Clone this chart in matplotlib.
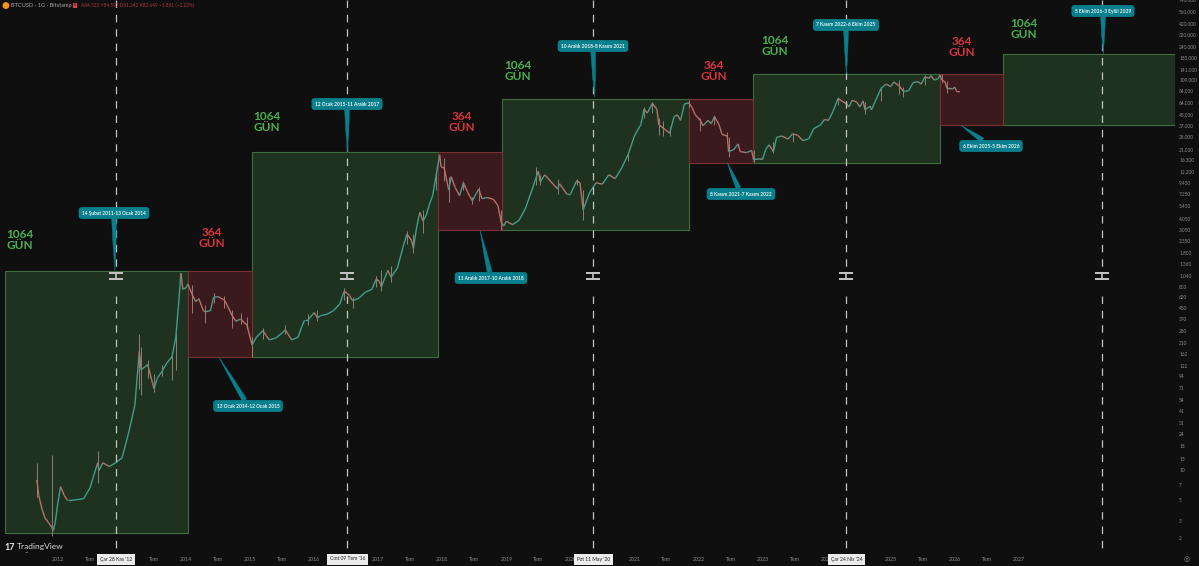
#!/usr/bin/env python
# -*- coding: utf-8 -*-

"""
BTCUSD log chart with the 1064 / 364 day cycle boxes.
"""

import matplotlib
matplotlib.use("Agg")
import matplotlib.pyplot as plt
from matplotlib.collections import LineCollection
from matplotlib.patches import Rectangle

plt.rcParams['font.family'] = ['Lato', 'DejaVu Sans']

# price path, decimal year / close
years = [2011.67, 2011.70, 2011.75, 2011.80, 2011.85, 2011.90, 2011.93, 2011.96, 2012.00, 2012.04,
         2012.10, 2012.15, 2012.20, 2012.30, 2012.40, 2012.50, 2012.55, 2012.62, 2012.64, 2012.70,
         2012.80, 2012.90, 2013.00, 2013.10, 2013.20, 2013.27, 2013.30, 2013.40, 2013.50, 2013.55,
         2013.62, 2013.70, 2013.78, 2013.84, 2013.88, 2013.92, 2013.95, 2014.00, 2014.03, 2014.10,
         2014.15, 2014.20, 2014.27, 2014.30, 2014.38, 2014.43, 2014.50, 2014.60, 2014.65, 2014.72,
         2014.78, 2014.85, 2014.95, 2015.03, 2015.10, 2015.20, 2015.25, 2015.30, 2015.40, 2015.50,
         2015.55, 2015.65, 2015.75, 2015.80, 2015.85, 2015.90, 2016.00, 2016.05, 2016.10, 2016.20,
         2016.30, 2016.40, 2016.47, 2016.55, 2016.60, 2016.70, 2016.80, 2016.90, 2016.97, 2017.02,
         2017.05, 2017.15, 2017.20, 2017.30, 2017.40, 2017.45, 2017.52, 2017.55, 2017.60, 2017.65,
         2017.70, 2017.75, 2017.80, 2017.85, 2017.90, 2017.96, 2017.98, 2018.03, 2018.10, 2018.14,
         2018.20, 2018.27, 2018.33, 2018.40, 2018.47, 2018.57, 2018.62, 2018.70, 2018.80, 2018.87,
         2018.92, 2018.96, 2019.00, 2019.10, 2019.20, 2019.30, 2019.40, 2019.47, 2019.50, 2019.53,
         2019.60, 2019.70, 2019.80, 2019.83, 2019.95, 2020.00, 2020.10, 2020.15, 2020.20, 2020.30,
         2020.40, 2020.50, 2020.60, 2020.70, 2020.80, 2020.90, 2021.00, 2021.10, 2021.15, 2021.20,
         2021.28, 2021.35, 2021.38, 2021.45, 2021.55, 2021.62, 2021.67, 2021.72, 2021.78, 2021.85,
         2021.90, 2021.95, 2022.03, 2022.07, 2022.15, 2022.20, 2022.25, 2022.32, 2022.37, 2022.45,
         2022.47, 2022.55, 2022.62, 2022.65, 2022.75, 2022.83, 2022.86, 2022.95, 2023.00, 2023.05,
         2023.10, 2023.17, 2023.22, 2023.30, 2023.40, 2023.47, 2023.55, 2023.63, 2023.72, 2023.80,
         2023.90, 2023.97, 2024.03, 2024.10, 2024.18, 2024.25, 2024.30, 2024.35, 2024.40, 2024.47,
         2024.52, 2024.57, 2024.60, 2024.68, 2024.70, 2024.76, 2024.85, 2024.93, 2025.00, 2025.05,
         2025.13, 2025.20, 2025.28, 2025.35, 2025.42, 2025.48, 2025.53, 2025.60, 2025.63, 2025.68,
         2025.74, 2025.77, 2025.80, 2025.85, 2025.88, 2025.92, 2025.97, 2026.00, 2026.03, 2026.08]
closes = [8, 5.5, 4, 3.2, 2.9, 2.6, 2.4, 3.0, 4.7, 6.8,
          5.5, 4.9, 4.9, 5, 5.1, 6.6, 8.5, 12, 10, 12,
          11, 12, 13.5, 24, 47, 170, 110, 125, 70, 90,
          105, 130, 150, 240, 500, 1100, 750, 780, 850, 650,
          560, 600, 450, 440, 450, 620, 630, 580, 500, 400,
          350, 370, 320, 200, 240, 280, 250, 225, 235, 265,
          285, 225, 240, 300, 360, 360, 430, 380, 400, 415,
          450, 530, 720, 650, 570, 610, 700, 750, 960, 900,
          800, 1180, 1000, 1250, 2200, 2800, 2400, 2000, 3300, 4700,
          3800, 4400, 5700, 7000, 11000, 18500, 14000, 13500, 8000, 11000,
          8500, 7000, 9500, 7500, 6200, 8200, 6500, 6700, 6400, 5500,
          3700, 3400, 3800, 3500, 3900, 5200, 8000, 11000, 12500, 9700,
          11500, 9700, 8200, 9300, 7200, 7200, 10000, 9500, 5000, 7500,
          9500, 9200, 11500, 10500, 13500, 18500, 29000, 38000, 55000, 50000,
          63000, 55000, 38000, 35000, 31000, 46000, 48000, 42000, 62000, 64000,
          57000, 48000, 42000, 37000, 42000, 39000, 46000, 38000, 30000, 29000,
          20000, 21000, 24000, 20000, 19500, 20500, 16500, 16800, 16600, 21000,
          23500, 20000, 28000, 29000, 27000, 30500, 29500, 26000, 27000, 34500,
          37500, 43000, 42000, 52000, 71000, 66000, 63000, 58000, 68000, 65000,
          58000, 67000, 54000, 59000, 54000, 66000, 90000, 100000, 94000, 105000,
          96000, 84000, 85000, 103000, 106000, 100000, 118000, 115000, 122000, 110000,
          113000, 124000, 110000, 105000, 90000, 90000, 89000, 93000, 84000, 82649]

# wicks that stand out of the path
wick_years = [2011.68, 2011.90, 2012.62, 2013.27, 2013.30, 2013.40, 2013.50, 2013.62, 2013.78, 2013.84,
              2014.10, 2014.30, 2014.43, 2014.60, 2014.72, 2014.85, 2014.95, 2015.03, 2015.20, 2015.55,
              2015.90, 2016.05, 2016.47, 2016.60, 2016.97, 2017.05, 2017.20, 2017.45, 2017.55, 2017.70,
              2017.90, 2018.03, 2018.10, 2018.33, 2018.47, 2018.57, 2018.92, 2019.47, 2019.53, 2019.80,
              2020.10, 2020.20, 2020.90, 2021.15, 2021.28, 2021.38, 2021.45, 2021.55, 2021.85, 2022.03,
              2022.25, 2022.45, 2022.47, 2022.86, 2023.17, 2023.47, 2024.18, 2024.60, 2024.85, 2025.13,
              2025.20, 2025.53, 2025.80, 2025.88]
wick_lows = [5.3, 2.1, 7.4, 70, 60, 90, 65, 95, 87, 110,
             430, 340, 540, 480, 300, 330, 290, 150, 230, 260,
             320, 350, 580, 480, 800, 720, 900, 2200, 1800, 2900,
             8000, 10000, 6000, 8000, 5800, 6200, 3100, 9000, 9000, 7300,
             9000, 3900, 16000, 44000, 50000, 30000, 29000, 29000, 58000, 33000,
             38000, 25000, 17700, 15500, 19500, 25000, 60000, 49000, 67000, 78000,
             74000, 98000, 102000, 80000]
wick_highs = [12, 14.5, 16, 260, 190, 140, 100, 125, 160, 260,
              830, 520, 680, 640, 460, 430, 390, 240, 300, 320,
              420, 460, 780, 620, 1020, 1200, 1300, 3000, 2800, 5000,
              12000, 17000, 11000, 10000, 6800, 8500, 5000, 13900, 11500, 10300,
              10500, 8000, 20000, 58000, 65000, 45000, 41000, 36000, 69000, 45000,
              48000, 32000, 28000, 21000, 25000, 31000, 74000, 65000, 94000, 109000,
              94000, 123000, 126000, 107000]

# cycle boxes: start, end, bottom, top
green_boxes = [(2011.17, 2014.03, 2.25, 1160),
               (2015.03, 2017.94, 150, 19800),
               (2018.94, 2021.86, 3085, 70100),
               (2022.85, 2025.77, 15350, 127000),
               (2026.76, 2029.67, 37250, 205000)]
red_boxes = [(2014.03, 2015.03, 150, 1160),
             (2017.94, 2018.94, 3085, 19800),
             (2021.86, 2022.85, 15350, 70100),
             (2025.77, 2026.76, 37250, 127000)]

line_years = [2012.91, 2016.52, 2020.36, 2024.31, 2028.30]
line_labels = ["Çar 28 Kas '12", "Cmt 09 Tem '16", "Pzt 11 May '20", "Çar 24 Nis '24", None]

price_ticks = [2, 3, 5, 7, 10, 13, 18, 24, 31, 41, 54, 71, 94, 122, 162, 210, 280, 370, 480, 620, 800,
               1040, 1360, 1800, 2350, 3050, 4050, 5450, 7250, 9450, 12200, 16300, 21000, 28000, 37000,
               48000, 64000, 84000, 109000, 141000, 185000, 240000, 320000, 420000, 560000, 740000]
year_ticks = [2012, 2012.5, 2013.5, 2014, 2014.5, 2015, 2015.5, 2016, 2017, 2017.5, 2018, 2018.5, 2019,
              2019.5, 2020, 2021, 2021.5, 2022, 2022.5, 2023, 2023.5, 2024, 2025, 2025.5, 2026, 2026.5, 2027]
year_tick_labels = ['2012', 'Tem', 'Tem', '2014', 'Tem', '2015', 'Tem', '2016', '2017', 'Tem', '2018', 'Tem', '2019',
                    'Tem', '2020', '2021', 'Tem', '2022', 'Tem', '2023', 'Tem', '2024', '2025', 'Tem', '2026', 'Tem', '2027']

callout_texts = ["14 Şubat 2011-13 Ocak 2014", "13 Ocak 2014-12 Ocak 2015", "12 Ocak 2015-11 Aralık 2017",
                 "11 Aralık 2017-10 Aralık 2018", "10 Aralık 2018-8 Kasım 2021", "8 Kasım 2021-7 Kasım 2022",
                 "7 Kasım 2022-6 Ekim 2025", "6 Ekim 2025-5 Ekim 2026", "5 Ekim 2026-3 Eylül 2029"]
callout_tips = [(2012.89, 1160), (2014.51, 150), (2016.52, 19800), (2018.59, 3085), (2020.38, 72000),
                (2022.45, 15350), (2024.31, 127000), (2026.10, 37250), (2028.32, 205000)]
callout_boxes = [(114, 213), (248, 406), (347, 104), (491, 278), (593, 46), (741, 194), (846, 25), (991, 146), (1103, 11)]

BG = '#0f0f0f'
W, H = 1199, 566

fig = plt.figure(figsize=(W / 100, H / 100), dpi=100, facecolor=BG)
ax = fig.add_axes([0, (H - 552) / H, 1175 / W, 552 / H], facecolor=BG)
ax.set_yscale('log')
ax.set_xlim(2011.095, 2029.44)
ax.set_ylim(1.433, 741000)

for x0, x1, y0, y1 in green_boxes:
    ax.add_patch(Rectangle((x0, y0), x1 - x0, y1 - y0, fc='#1f321f', ec='#3d6e40', lw=0.8, zorder=1))
for x0, x1, y0, y1 in red_boxes:
    ax.add_patch(Rectangle((x0, y0), x1 - x0, y1 - y0, fc='#3a1a1c', ec='#7c2f35', lw=0.8, zorder=1))

# price
segs = [[(years[i], closes[i]), (years[i + 1], closes[i + 1])] for i in range(len(years) - 1)]
cols = ['#3f9f8c' if closes[i + 1] >= closes[i] else '#b9706c' for i in range(len(years) - 1)]
ax.vlines(wick_years, wick_lows, wick_highs, color='#a08c84', lw=0.6, zorder=3)
ax.add_collection(LineCollection(segs, colors=cols, linewidths=1.0, zorder=3))

# dashed vertical lines, broken around the H mark
for i, x in enumerate(line_years):
    ax.plot([x, x], [741000, 1180], color='#c4c4c4', lw=0.9, dashes=(6, 5.5), zorder=4)
    ax.plot([x, x], [640, 1.433], color='#c4c4c4', lw=0.9, dashes=(6, 5.5), zorder=4)
    ax.plot([x, x], [960, 1120], color='#c4c4c4', lw=1.2, zorder=5)
    ax.plot([x, x], [1120, 1120], marker='_', ms=10, mew=1.3, color='#c4c4c4', zorder=5)
    ax.plot([x, x], [960, 960], marker='_', ms=10, mew=1.3, color='#c4c4c4', zorder=5)
    if line_labels[i]:
        ax.annotate(line_labels[i], xy=(x, 0), xycoords=('data', 'figure pixels'), xytext=(x, 7),
                    textcoords=('data', 'figure pixels'), ha='center', va='center', fontsize=3.6,
                    color='#222222', annotation_clip=False, zorder=10,
                    bbox=dict(boxstyle='square,pad=0.6', fc='#ececec', ec='none'))

# callouts
for text, tip, box in zip(callout_texts, callout_tips, callout_boxes):
    ax.annotate(text, xy=tip, xycoords='data', xytext=(box[0], H - box[1]), textcoords='figure pixels',
                ha='center', va='center', fontsize=3.5, color='#e8f4f4', fontweight='bold', zorder=6,
                bbox=dict(boxstyle='round,pad=0.7,rounding_size=0.7', fc='#087f8c', ec='none'),
                arrowprops=dict(arrowstyle='wedge,tail_width=1.0,shrink_factor=0.6', fc='#087f8c', ec='#087f8c',
                                lw=0.3, shrinkA=0, shrinkB=0))

# duration labels
green_labels = [(20, 240), (267, 122), (518, 71), (775, 46), (1024, 29)]
red_labels = [(212, 238), (462, 122), (714, 71), (962, 47)]
for x, y in green_labels:
    fig.text(x / W, 1 - y / H, '1064\nGÜN', color='#4caf50', fontsize=8.5, fontweight='bold', ha='center', va='center', linespacing=1.0)
for x, y in red_labels:
    fig.text(x / W, 1 - y / H, '364\nGÜN', color='#d9363e', fontsize=8.5, fontweight='bold', ha='center', va='center', linespacing=1.0)

# axes
ax.yaxis.tick_right()
ax.set_yticks(price_ticks)
ax.set_yticklabels([f"{v:,}".replace(',', '.') for v in price_ticks])
ax.minorticks_off()
ax.set_xticks(year_ticks)
ax.set_xticklabels(year_tick_labels)
ax.tick_params(axis='y', length=0, pad=3, labelsize=3.4, labelcolor='#8c8c8c')
ax.tick_params(axis='x', length=0, pad=3.5, labelsize=3.8, labelcolor='#8c8c8c')
for s in ax.spines.values():
    s.set_visible(False)

# header
fig.text(5.5 / W, 1 - 5.5 / H, '●', color='#f7931a', fontsize=6.5, ha='center', va='center', family='DejaVu Sans')
fig.text(11 / W, 1 - 5.5 / H, 'BTCUSD · 1G · Bitstamp', color='#a8a8a8', fontsize=4.1, va='center')
fig.text(75 / W, 1 - 5.5 / H, 'E', color='#0f0f0f', fontsize=3, ha='center', va='center',
         bbox=dict(boxstyle='square,pad=0.2', fc='#e0414a', ec='none'))
fig.text(81 / W, 1 - 5.5 / H, 'A84.523 Y84.597 D81.342 K82.649 −1.881 (−2.22%)', color='#a83a40', fontsize=3.4, va='center')

# logo
fig.text(4 / W, 1 - 547 / H, '17', color='#e8e8e8', fontsize=6.5, fontweight='bold', va='center')
fig.text(17 / W, 1 - 547 / H, 'TradingView', color='#d8d8d8', fontsize=6, va='center')
fig.text(26 / W, 1 - 553 / H, '~', color='#d8d8d8', fontsize=4, ha='center', va='center')
fig.text(1187 / W, 1 - 559 / H, '◎', color='#8c8c8c', fontsize=5, ha='center', va='center', family='DejaVu Sans')

fig.savefig('out.png', dpi=100, facecolor=BG)
